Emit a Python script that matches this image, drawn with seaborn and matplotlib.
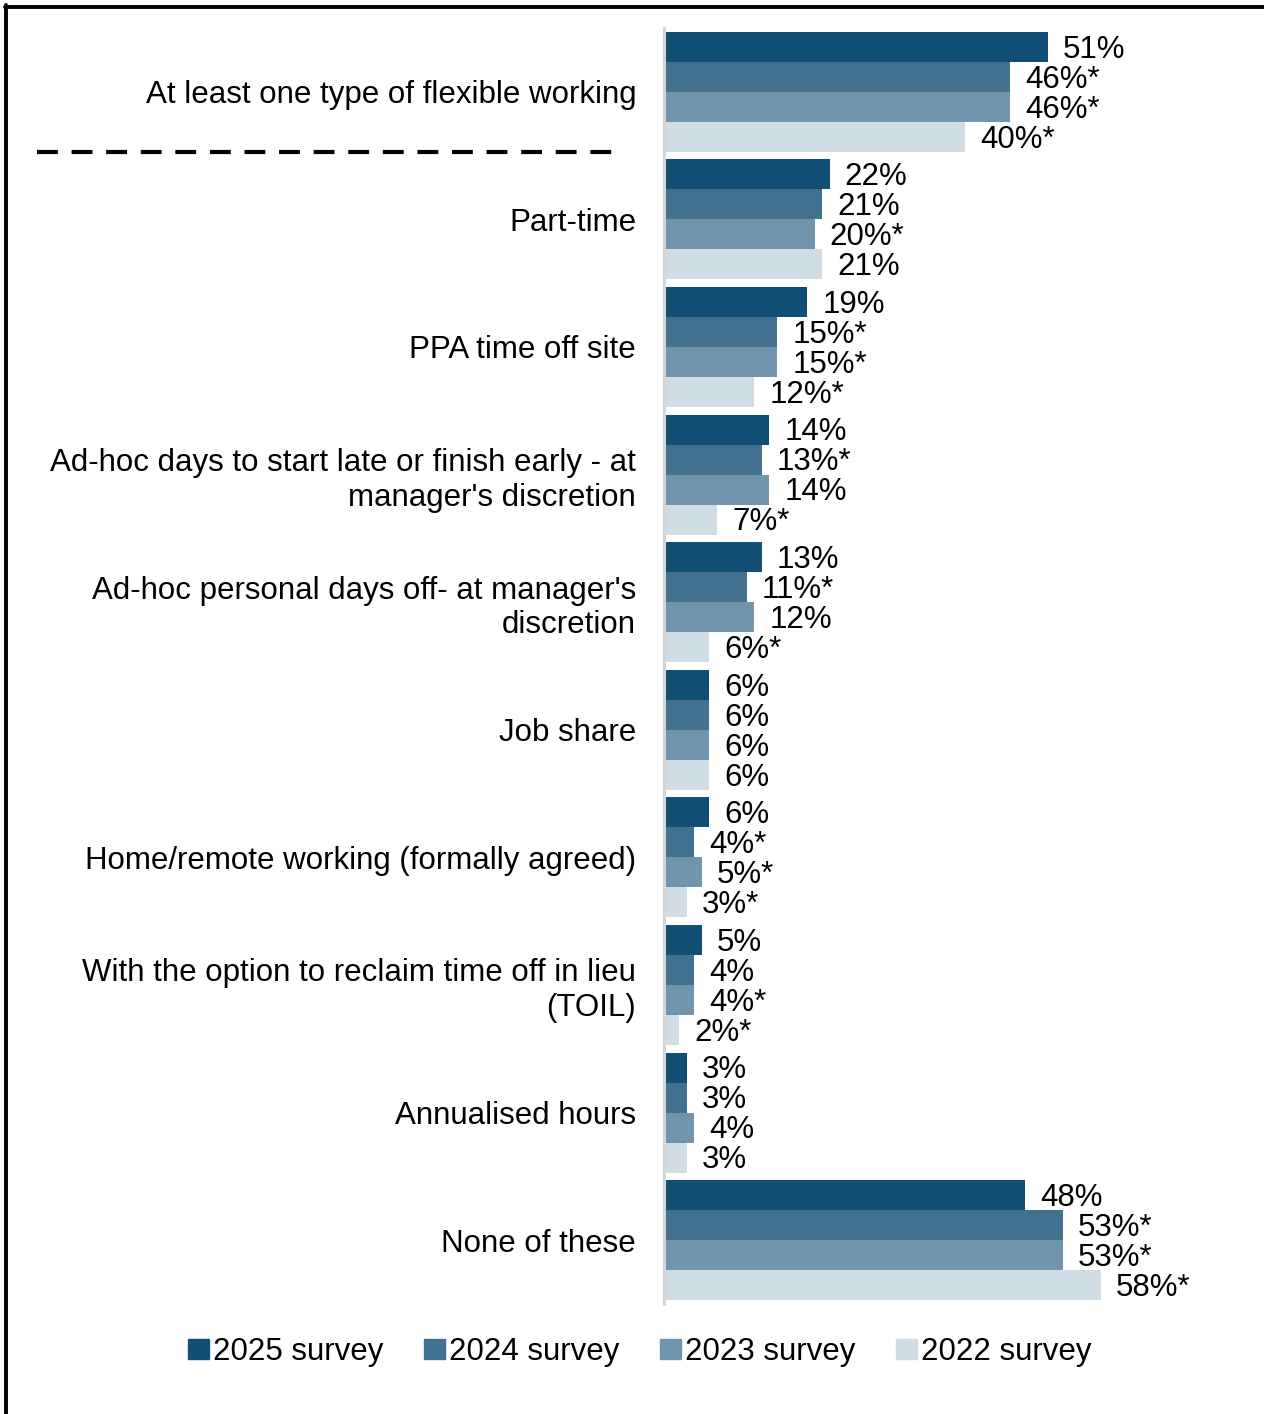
import matplotlib
matplotlib.use("Agg")
import matplotlib.pyplot as plt
from matplotlib.lines import Line2D
from matplotlib.patches import Patch
from matplotlib.transforms import blended_transform_factory
import seaborn as sns
import pandas as pd

# Flexible working arrangements by survey year (% of respondents)
categories = [
    "At least one type of flexible working",
    "Part-time",
    "PPA time off site",
    "Ad-hoc days to start late or finish early - at\nmanager's discretion",
    "Ad-hoc personal days off- at manager's\ndiscretion",
    "Job share",
    "Home/remote working (formally agreed)",
    "With the option to reclaim time off in lieu\n(TOIL)",
    "Annualised hours",
    "None of these",
]
surveys = ["2025 survey", "2024 survey", "2023 survey", "2022 survey"]

values_2025 = [51, 22, 19, 14, 13, 6, 6, 5, 3, 48]
values_2024 = [46, 21, 15, 13, 11, 6, 4, 4, 3, 53]
values_2023 = [46, 20, 15, 14, 12, 6, 5, 4, 4, 53]
values_2022 = [40, 21, 12, 7, 6, 6, 3, 2, 3, 58]

# significant difference vs 2025 (marked with *)
sig_2024 = [1, 0, 1, 1, 1, 0, 1, 0, 0, 1]
sig_2023 = [1, 1, 1, 0, 0, 0, 1, 1, 0, 1]
sig_2022 = [1, 0, 1, 1, 1, 0, 1, 1, 0, 1]
sig_2025 = [0] * len(categories)

colors = ["#124f75", "#42728f", "#7195ad", "#d0dce4"]

series_values = [values_2025, values_2024, values_2023, values_2022]
series_sig = [sig_2025, sig_2024, sig_2023, sig_2022]

rows = []
for s, vals in zip(surveys, series_values):
    for c, v in zip(categories, vals):
        rows.append({"category": c, "survey": s, "value": v})
df = pd.DataFrame(rows)

sns.set_theme(style="white")
plt.rcParams["font.family"] = ["Liberation Sans", "DejaVu Sans"]
FS = 22.5

fig = plt.figure(figsize=(12.64, 14.14), dpi=100)
ax = fig.add_axes([664 / 1264, 1 - 1304 / 1414, (1230 - 664) / 1264, (1304 - 28) / 1414])

sns.barplot(
    data=df, x="value", y="category", hue="survey", orient="h",
    order=categories, hue_order=surveys,
    palette=dict(zip(surveys, colors)), saturation=1, width=0.94,
    legend=False, linewidth=0, ax=ax,
)

for cont, vals, sig in zip(ax.containers, series_values, series_sig):
    labels = [f"{v}%{'*' if f else ''}" for v, f in zip(vals, sig)]
    anns = ax.bar_label(cont, labels=labels, padding=11, fontsize=FS, color="black")
    for a in anns:
        a.xyann = (11, -2)

ax.set_xlim(0, 75.2)
ax.set_ylim(len(categories) - 0.5, -0.5)
ax.set_xlabel("")
ax.set_ylabel("")
ax.set_xticks([])
ax.tick_params(axis="y", length=0, pad=20, labelsize=FS, labelcolor="black")
for lbl in ax.get_yticklabels():
    lbl.set_horizontalalignment("right")
for side in ["top", "right", "bottom"]:
    ax.spines[side].set_visible(False)
ax.spines["left"].set_color("#d6d6d6")
ax.spines["left"].set_linewidth(2.2)

# dashed separator under the summary row
trans = blended_transform_factory(fig.transFigure, ax.transData)
fig.add_artist(Line2D([37 / 1264, 620 / 1264], [0.47, 0.47], transform=trans,
                      color="black", linewidth=3, linestyle=(0, (5, 3.3))))

# outer frame (top and left edges)
fig.add_artist(Line2D([5 / 1264, 1], [1 - 7 / 1414, 1 - 7 / 1414],
                      transform=fig.transFigure, color="black", linewidth=2.8))
fig.add_artist(Line2D([6 / 1264, 6 / 1264], [1 - 5 / 1414, 0],
                      transform=fig.transFigure, color="black", linewidth=2.8))

handles = [Patch(facecolor=c, edgecolor=c, label=s) for c, s in zip(colors, surveys)]
fig.legend(handles=handles, loc="center", bbox_to_anchor=(640 / 1264, 1 - 1352 / 1414),
           ncol=4, frameon=False, fontsize=FS, handlelength=0.65, handleheight=0.65,
           handletextpad=0.15, columnspacing=1.3, labelcolor="black")

fig.savefig("out.png", dpi=100)
